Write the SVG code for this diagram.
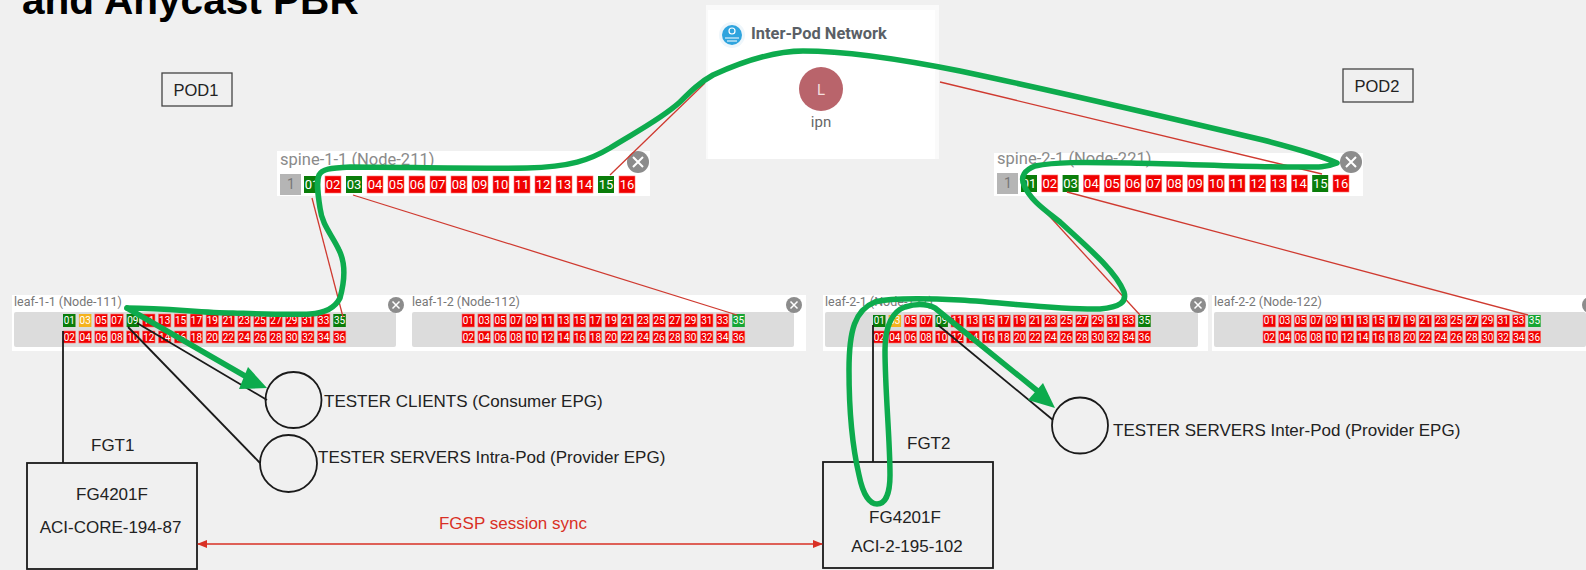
<svg xmlns="http://www.w3.org/2000/svg" width="1586" height="570" viewBox="0 0 1586 570">
<style>
text{font-family:"Liberation Sans",Arial,sans-serif}
.panel{fill:#fff}.gray{fill:#dcdcdc}
.r{fill:#f00000;stroke:#f77;stroke-width:.6}.g{fill:#0a7d0a}.lg{fill:#16a534}.y{fill:#f5b21e}
.p{font-size:10px;fill:#fff;text-anchor:middle;font-family:"Roboto",sans-serif}
.sp{font-size:13px;fill:#fff;text-anchor:middle;font-family:"Roboto",sans-serif}
.nm{font-size:16.500px;fill:#8a8a8a;font-family:"Roboto",sans-serif}
.lf{font-size:12.500px;fill:#777;font-family:"Roboto",sans-serif}
.cl{fill:#8c8c8c}.x{stroke:#fff;stroke-width:2;fill:none}
.bl{fill:none;stroke:#1a1a1a;stroke-width:1.800}
.rd{fill:none;stroke:#cf3a30;stroke-width:1.300}
.gr{fill:none;stroke:#0dab4d;stroke-width:5.500;stroke-linejoin:round;stroke-linecap:round}
.t{font-size:17px;fill:#222}
.ctr{text-anchor:middle}
.box{fill:none;stroke:#1a1a1a;stroke-width:1.800}
</style>
<defs>
<marker id="ra" markerWidth="10" markerHeight="8" refX="9" refY="4" orient="auto-start-reverse" markerUnits="userSpaceOnUse"><path d="M0 0L10 4L0 8z" fill="#d93025"/></marker>
</defs>
<rect width="1586" height="570" fill="#f0f0f0"/>
<text x="22" y="14" font-size="40.600" font-weight="bold" fill="#000">and Anycast PBR</text>

<g id="ipn-panel">
<rect x="706" y="5" width="233" height="154" fill="#fafafa"/>
<rect x="708" y="10" width="227" height="149" fill="#fff"/>
<circle cx="732" cy="35" r="13" fill="#eef6fb"/>
<circle cx="732" cy="35" r="10" fill="#2fa4de"/>
<circle cx="732" cy="31" r="3" fill="none" stroke="#fff" stroke-width="1.200"/>
<path d="M725 38h14M727 41h10" stroke="#fff" stroke-width="1.200" fill="none"/>
<text x="751" y="39" font-size="16.400" font-weight="bold" fill="#5a5f66" style="font-family:Roboto,sans-serif">Inter-Pod Network</text>
<circle cx="821" cy="89" r="22" fill="#b9646b"/>
<text x="821" y="95" font-size="15" fill="#f4dede" text-anchor="middle" style="font-family:Roboto,sans-serif">L</text>
<text x="821" y="127" font-size="15" fill="#666" text-anchor="middle" style="font-family:Roboto,sans-serif">ipn</text>
</g>

<g id="pod1"><rect x="162" y="73" width="70" height="33" fill="none" stroke="#444" stroke-width="1.300"/><text x="196" y="96" font-size="16.500" fill="#222" text-anchor="middle">POD1</text></g>
<g id="pod2"><rect x="1343" y="69" width="70" height="33" fill="none" stroke="#444" stroke-width="1.300"/><text x="1377" y="92" font-size="16.500" fill="#222" text-anchor="middle">POD2</text></g>

<g id="spine-1-1">
<rect class="panel" x="277" y="151" width="373" height="45"/>
<text class="nm" x="280" y="165">spine-1-1 (Node-211)</text>
<rect x="280" y="174" width="21" height="21" fill="#b5b5b5"/><text x="291" y="189" font-size="14" fill="#777" text-anchor="middle" style="font-family:Roboto,sans-serif">1</text>
<rect class="g" x="304" y="176" width="16" height="17"/><text class="sp" x="312" y="189">01</text>
<rect class="r" x="325" y="176" width="16" height="17"/><text class="sp" x="333" y="189">02</text>
<rect class="g" x="346" y="176" width="16" height="17"/><text class="sp" x="354" y="189">03</text>
<rect class="r" x="367" y="176" width="16" height="17"/><text class="sp" x="375" y="189">04</text>
<rect class="r" x="388" y="176" width="16" height="17"/><text class="sp" x="396" y="189">05</text>
<rect class="r" x="409" y="176" width="16" height="17"/><text class="sp" x="417" y="189">06</text>
<rect class="r" x="430" y="176" width="16" height="17"/><text class="sp" x="438" y="189">07</text>
<rect class="r" x="451" y="176" width="16" height="17"/><text class="sp" x="459" y="189">08</text>
<rect class="r" x="472" y="176" width="16" height="17"/><text class="sp" x="480" y="189">09</text>
<rect class="r" x="493" y="176" width="16" height="17"/><text class="sp" x="501" y="189">10</text>
<rect class="r" x="514" y="176" width="16" height="17"/><text class="sp" x="522" y="189">11</text>
<rect class="r" x="535" y="176" width="16" height="17"/><text class="sp" x="543" y="189">12</text>
<rect class="r" x="556" y="176" width="16" height="17"/><text class="sp" x="564" y="189">13</text>
<rect class="r" x="577" y="176" width="16" height="17"/><text class="sp" x="585" y="189">14</text>
<rect class="g" x="598" y="176" width="16" height="17"/><text class="sp" x="606" y="189">15</text>
<rect class="r" x="619" y="176" width="16" height="17"/><text class="sp" x="627" y="189">16</text>
<circle class="cl" cx="638" cy="162" r="11"/><path class="x" d="M633 157l10 10M643 157l-10 10"/>
</g>

<g id="spine-2-1">
<rect class="panel" x="994" y="153" width="369" height="43"/>
<text class="nm" x="997" y="164">spine-2-1 (Node-221)</text>
<rect x="997" y="173" width="21" height="21" fill="#b5b5b5"/><text x="1008" y="188" font-size="14" fill="#777" text-anchor="middle" style="font-family:Roboto,sans-serif">1</text>
<rect class="g" x="1021" y="175" width="16" height="17"/><text class="sp" x="1029" y="188">01</text>
<rect class="r" x="1041.800" y="175" width="16" height="17"/><text class="sp" x="1049.800" y="188">02</text>
<rect class="g" x="1062.600" y="175" width="16" height="17"/><text class="sp" x="1070.600" y="188">03</text>
<rect class="r" x="1083.400" y="175" width="16" height="17"/><text class="sp" x="1091.400" y="188">04</text>
<rect class="r" x="1104.200" y="175" width="16" height="17"/><text class="sp" x="1112.200" y="188">05</text>
<rect class="r" x="1125" y="175" width="16" height="17"/><text class="sp" x="1133" y="188">06</text>
<rect class="r" x="1145.800" y="175" width="16" height="17"/><text class="sp" x="1153.800" y="188">07</text>
<rect class="r" x="1166.600" y="175" width="16" height="17"/><text class="sp" x="1174.600" y="188">08</text>
<rect class="r" x="1187.400" y="175" width="16" height="17"/><text class="sp" x="1195.400" y="188">09</text>
<rect class="r" x="1208.200" y="175" width="16" height="17"/><text class="sp" x="1216.200" y="188">10</text>
<rect class="r" x="1229" y="175" width="16" height="17"/><text class="sp" x="1237" y="188">11</text>
<rect class="r" x="1249.800" y="175" width="16" height="17"/><text class="sp" x="1257.800" y="188">12</text>
<rect class="r" x="1270.600" y="175" width="16" height="17"/><text class="sp" x="1278.600" y="188">13</text>
<rect class="r" x="1291.400" y="175" width="16" height="17"/><text class="sp" x="1299.400" y="188">14</text>
<rect class="g" x="1312.200" y="175" width="16" height="17"/><text class="sp" x="1320.200" y="188">15</text>
<rect class="r" x="1333" y="175" width="16" height="17"/><text class="sp" x="1341" y="188">16</text>
<circle class="cl" cx="1351" cy="162" r="11"/><path class="x" d="M1346 157l10 10M1356 157l-10 10"/>
</g>

<g id="leaf-1-1">
<rect class="panel" x="12" y="295" width="396" height="56"/>
<rect class="gray" x="14" y="312" width="382" height="35" rx="2"/>
<text class="lf" x="14" y="306">leaf-1-1 (Node-111)</text>
<rect class="g" x="63.000" y="314" width="12.500" height="13"/><text class="p" x="69.250" y="324">01</text>
<rect class="r" x="63.000" y="331" width="12.500" height="12"/><text class="p" x="69.250" y="341">02</text>
<rect class="y" x="78.900" y="314" width="12.500" height="13"/><text class="p" x="85.150" y="324">03</text>
<rect class="r" x="78.900" y="331" width="12.500" height="12"/><text class="p" x="85.150" y="341">04</text>
<rect class="r" x="94.800" y="314" width="12.500" height="13"/><text class="p" x="101.050" y="324">05</text>
<rect class="r" x="94.800" y="331" width="12.500" height="12"/><text class="p" x="101.050" y="341">06</text>
<rect class="r" x="110.700" y="314" width="12.500" height="13"/><text class="p" x="116.950" y="324">07</text>
<rect class="r" x="110.700" y="331" width="12.500" height="12"/><text class="p" x="116.950" y="341">08</text>
<rect class="g" x="126.600" y="314" width="12.500" height="13"/><text class="p" x="132.850" y="324">09</text>
<rect class="r" x="126.600" y="331" width="12.500" height="12"/><text class="p" x="132.850" y="341">10</text>
<rect class="r" x="142.500" y="314" width="12.500" height="13"/><text class="p" x="148.750" y="324">11</text>
<rect class="r" x="142.500" y="331" width="12.500" height="12"/><text class="p" x="148.750" y="341">12</text>
<rect class="r" x="158.400" y="314" width="12.500" height="13"/><text class="p" x="164.650" y="324">13</text>
<rect class="r" x="158.400" y="331" width="12.500" height="12"/><text class="p" x="164.650" y="341">14</text>
<rect class="r" x="174.300" y="314" width="12.500" height="13"/><text class="p" x="180.550" y="324">15</text>
<rect class="r" x="174.300" y="331" width="12.500" height="12"/><text class="p" x="180.550" y="341">16</text>
<rect class="r" x="190.200" y="314" width="12.500" height="13"/><text class="p" x="196.450" y="324">17</text>
<rect class="r" x="190.200" y="331" width="12.500" height="12"/><text class="p" x="196.450" y="341">18</text>
<rect class="r" x="206.100" y="314" width="12.500" height="13"/><text class="p" x="212.350" y="324">19</text>
<rect class="r" x="206.100" y="331" width="12.500" height="12"/><text class="p" x="212.350" y="341">20</text>
<rect class="r" x="222.000" y="314" width="12.500" height="13"/><text class="p" x="228.250" y="324">21</text>
<rect class="r" x="222.000" y="331" width="12.500" height="12"/><text class="p" x="228.250" y="341">22</text>
<rect class="r" x="237.900" y="314" width="12.500" height="13"/><text class="p" x="244.150" y="324">23</text>
<rect class="r" x="237.900" y="331" width="12.500" height="12"/><text class="p" x="244.150" y="341">24</text>
<rect class="r" x="253.800" y="314" width="12.500" height="13"/><text class="p" x="260.050" y="324">25</text>
<rect class="r" x="253.800" y="331" width="12.500" height="12"/><text class="p" x="260.050" y="341">26</text>
<rect class="r" x="269.700" y="314" width="12.500" height="13"/><text class="p" x="275.950" y="324">27</text>
<rect class="r" x="269.700" y="331" width="12.500" height="12"/><text class="p" x="275.950" y="341">28</text>
<rect class="r" x="285.600" y="314" width="12.500" height="13"/><text class="p" x="291.850" y="324">29</text>
<rect class="r" x="285.600" y="331" width="12.500" height="12"/><text class="p" x="291.850" y="341">30</text>
<rect class="r" x="301.500" y="314" width="12.500" height="13"/><text class="p" x="307.750" y="324">31</text>
<rect class="r" x="301.500" y="331" width="12.500" height="12"/><text class="p" x="307.750" y="341">32</text>
<rect class="r" x="317.400" y="314" width="12.500" height="13"/><text class="p" x="323.650" y="324">33</text>
<rect class="r" x="317.400" y="331" width="12.500" height="12"/><text class="p" x="323.650" y="341">34</text>
<rect class="g" x="333.300" y="314" width="12.500" height="13"/><text class="p" x="339.550" y="324">35</text>
<rect class="r" x="333.300" y="331" width="12.500" height="12"/><text class="p" x="339.550" y="341">36</text>
<circle class="cl" cx="396" cy="305" r="8"/><path class="x" d="M392.500 301.500l7 7M399.500 301.500l-7 7" style="stroke-width:1.500"/>
</g>

<g id="leaf-1-2">
<rect class="panel" x="408" y="295" width="398" height="56"/>
<rect class="gray" x="412" y="312" width="382" height="35" rx="2"/>
<text class="lf" x="412" y="306">leaf-1-2 (Node-112)</text>
<rect class="r" x="462.000" y="314" width="12.500" height="13"/><text class="p" x="468.250" y="324">01</text>
<rect class="r" x="462.000" y="331" width="12.500" height="12"/><text class="p" x="468.250" y="341">02</text>
<rect class="r" x="477.900" y="314" width="12.500" height="13"/><text class="p" x="484.150" y="324">03</text>
<rect class="r" x="477.900" y="331" width="12.500" height="12"/><text class="p" x="484.150" y="341">04</text>
<rect class="r" x="493.800" y="314" width="12.500" height="13"/><text class="p" x="500.050" y="324">05</text>
<rect class="r" x="493.800" y="331" width="12.500" height="12"/><text class="p" x="500.050" y="341">06</text>
<rect class="r" x="509.700" y="314" width="12.500" height="13"/><text class="p" x="515.950" y="324">07</text>
<rect class="r" x="509.700" y="331" width="12.500" height="12"/><text class="p" x="515.950" y="341">08</text>
<rect class="r" x="525.600" y="314" width="12.500" height="13"/><text class="p" x="531.850" y="324">09</text>
<rect class="r" x="525.600" y="331" width="12.500" height="12"/><text class="p" x="531.850" y="341">10</text>
<rect class="r" x="541.500" y="314" width="12.500" height="13"/><text class="p" x="547.750" y="324">11</text>
<rect class="r" x="541.500" y="331" width="12.500" height="12"/><text class="p" x="547.750" y="341">12</text>
<rect class="r" x="557.400" y="314" width="12.500" height="13"/><text class="p" x="563.650" y="324">13</text>
<rect class="r" x="557.400" y="331" width="12.500" height="12"/><text class="p" x="563.650" y="341">14</text>
<rect class="r" x="573.300" y="314" width="12.500" height="13"/><text class="p" x="579.550" y="324">15</text>
<rect class="r" x="573.300" y="331" width="12.500" height="12"/><text class="p" x="579.550" y="341">16</text>
<rect class="r" x="589.200" y="314" width="12.500" height="13"/><text class="p" x="595.450" y="324">17</text>
<rect class="r" x="589.200" y="331" width="12.500" height="12"/><text class="p" x="595.450" y="341">18</text>
<rect class="r" x="605.100" y="314" width="12.500" height="13"/><text class="p" x="611.350" y="324">19</text>
<rect class="r" x="605.100" y="331" width="12.500" height="12"/><text class="p" x="611.350" y="341">20</text>
<rect class="r" x="621.000" y="314" width="12.500" height="13"/><text class="p" x="627.250" y="324">21</text>
<rect class="r" x="621.000" y="331" width="12.500" height="12"/><text class="p" x="627.250" y="341">22</text>
<rect class="r" x="636.900" y="314" width="12.500" height="13"/><text class="p" x="643.150" y="324">23</text>
<rect class="r" x="636.900" y="331" width="12.500" height="12"/><text class="p" x="643.150" y="341">24</text>
<rect class="r" x="652.800" y="314" width="12.500" height="13"/><text class="p" x="659.050" y="324">25</text>
<rect class="r" x="652.800" y="331" width="12.500" height="12"/><text class="p" x="659.050" y="341">26</text>
<rect class="r" x="668.700" y="314" width="12.500" height="13"/><text class="p" x="674.950" y="324">27</text>
<rect class="r" x="668.700" y="331" width="12.500" height="12"/><text class="p" x="674.950" y="341">28</text>
<rect class="r" x="684.600" y="314" width="12.500" height="13"/><text class="p" x="690.850" y="324">29</text>
<rect class="r" x="684.600" y="331" width="12.500" height="12"/><text class="p" x="690.850" y="341">30</text>
<rect class="r" x="700.500" y="314" width="12.500" height="13"/><text class="p" x="706.750" y="324">31</text>
<rect class="r" x="700.500" y="331" width="12.500" height="12"/><text class="p" x="706.750" y="341">32</text>
<rect class="r" x="716.400" y="314" width="12.500" height="13"/><text class="p" x="722.650" y="324">33</text>
<rect class="r" x="716.400" y="331" width="12.500" height="12"/><text class="p" x="722.650" y="341">34</text>
<rect class="lg" x="732.300" y="314" width="12.500" height="13"/><text class="p" x="738.550" y="324">35</text>
<rect class="r" x="732.300" y="331" width="12.500" height="12"/><text class="p" x="738.550" y="341">36</text>
<circle class="cl" cx="794" cy="305" r="8"/><path class="x" d="M790.500 301.500l7 7M797.500 301.500l-7 7" style="stroke-width:1.500"/>
</g>

<g id="leaf-2-1">
<rect class="panel" x="823" y="295" width="385" height="56"/>
<rect class="gray" x="825" y="312" width="373" height="35" rx="2"/>
<text class="lf" x="825" y="306">leaf-2-1 (Node-121)</text>
<rect class="g" x="873.000" y="315" width="12.500" height="12"/><text class="p" x="879.250" y="324">01</text>
<rect class="r" x="873.000" y="331" width="12.500" height="12"/><text class="p" x="879.250" y="341">02</text>
<rect class="y" x="888.600" y="315" width="12.500" height="12"/><text class="p" x="894.850" y="324">03</text>
<rect class="r" x="888.600" y="331" width="12.500" height="12"/><text class="p" x="894.850" y="341">04</text>
<rect class="r" x="904.200" y="315" width="12.500" height="12"/><text class="p" x="910.450" y="324">05</text>
<rect class="r" x="904.200" y="331" width="12.500" height="12"/><text class="p" x="910.450" y="341">06</text>
<rect class="r" x="919.800" y="315" width="12.500" height="12"/><text class="p" x="926.050" y="324">07</text>
<rect class="r" x="919.800" y="331" width="12.500" height="12"/><text class="p" x="926.050" y="341">08</text>
<rect class="g" x="935.400" y="315" width="12.500" height="12"/><text class="p" x="941.650" y="324">09</text>
<rect class="r" x="935.400" y="331" width="12.500" height="12"/><text class="p" x="941.650" y="341">10</text>
<rect class="r" x="951.000" y="315" width="12.500" height="12"/><text class="p" x="957.250" y="324">11</text>
<rect class="r" x="951.000" y="331" width="12.500" height="12"/><text class="p" x="957.250" y="341">12</text>
<rect class="r" x="966.600" y="315" width="12.500" height="12"/><text class="p" x="972.850" y="324">13</text>
<rect class="r" x="966.600" y="331" width="12.500" height="12"/><text class="p" x="972.850" y="341">14</text>
<rect class="r" x="982.200" y="315" width="12.500" height="12"/><text class="p" x="988.450" y="324">15</text>
<rect class="r" x="982.200" y="331" width="12.500" height="12"/><text class="p" x="988.450" y="341">16</text>
<rect class="r" x="997.800" y="315" width="12.500" height="12"/><text class="p" x="1004.050" y="324">17</text>
<rect class="r" x="997.800" y="331" width="12.500" height="12"/><text class="p" x="1004.050" y="341">18</text>
<rect class="r" x="1013.400" y="315" width="12.500" height="12"/><text class="p" x="1019.650" y="324">19</text>
<rect class="r" x="1013.400" y="331" width="12.500" height="12"/><text class="p" x="1019.650" y="341">20</text>
<rect class="r" x="1029.000" y="315" width="12.500" height="12"/><text class="p" x="1035.250" y="324">21</text>
<rect class="r" x="1029.000" y="331" width="12.500" height="12"/><text class="p" x="1035.250" y="341">22</text>
<rect class="r" x="1044.600" y="315" width="12.500" height="12"/><text class="p" x="1050.850" y="324">23</text>
<rect class="r" x="1044.600" y="331" width="12.500" height="12"/><text class="p" x="1050.850" y="341">24</text>
<rect class="r" x="1060.200" y="315" width="12.500" height="12"/><text class="p" x="1066.450" y="324">25</text>
<rect class="r" x="1060.200" y="331" width="12.500" height="12"/><text class="p" x="1066.450" y="341">26</text>
<rect class="r" x="1075.800" y="315" width="12.500" height="12"/><text class="p" x="1082.050" y="324">27</text>
<rect class="r" x="1075.800" y="331" width="12.500" height="12"/><text class="p" x="1082.050" y="341">28</text>
<rect class="r" x="1091.400" y="315" width="12.500" height="12"/><text class="p" x="1097.650" y="324">29</text>
<rect class="r" x="1091.400" y="331" width="12.500" height="12"/><text class="p" x="1097.650" y="341">30</text>
<rect class="r" x="1107.000" y="315" width="12.500" height="12"/><text class="p" x="1113.250" y="324">31</text>
<rect class="r" x="1107.000" y="331" width="12.500" height="12"/><text class="p" x="1113.250" y="341">32</text>
<rect class="r" x="1122.600" y="315" width="12.500" height="12"/><text class="p" x="1128.850" y="324">33</text>
<rect class="r" x="1122.600" y="331" width="12.500" height="12"/><text class="p" x="1128.850" y="341">34</text>
<rect class="g" x="1138.200" y="315" width="12.500" height="12"/><text class="p" x="1144.450" y="324">35</text>
<rect class="r" x="1138.200" y="331" width="12.500" height="12"/><text class="p" x="1144.450" y="341">36</text>
<circle class="cl" cx="1198" cy="305" r="8"/><path class="x" d="M1194.500 301.500l7 7M1201.500 301.500l-7 7" style="stroke-width:1.500"/>
</g>

<g id="leaf-2-2">
<rect class="panel" x="1212" y="295" width="374" height="56"/>
<rect class="gray" x="1214" y="312" width="372" height="35" rx="2"/>
<text class="lf" x="1214" y="306">leaf-2-2 (Node-122)</text>
<rect class="r" x="1263.000" y="315" width="12.500" height="12"/><text class="p" x="1269.250" y="324">01</text>
<rect class="r" x="1263.000" y="331" width="12.500" height="12"/><text class="p" x="1269.250" y="341">02</text>
<rect class="r" x="1278.600" y="315" width="12.500" height="12"/><text class="p" x="1284.850" y="324">03</text>
<rect class="r" x="1278.600" y="331" width="12.500" height="12"/><text class="p" x="1284.850" y="341">04</text>
<rect class="r" x="1294.200" y="315" width="12.500" height="12"/><text class="p" x="1300.450" y="324">05</text>
<rect class="r" x="1294.200" y="331" width="12.500" height="12"/><text class="p" x="1300.450" y="341">06</text>
<rect class="r" x="1309.800" y="315" width="12.500" height="12"/><text class="p" x="1316.050" y="324">07</text>
<rect class="r" x="1309.800" y="331" width="12.500" height="12"/><text class="p" x="1316.050" y="341">08</text>
<rect class="r" x="1325.400" y="315" width="12.500" height="12"/><text class="p" x="1331.650" y="324">09</text>
<rect class="r" x="1325.400" y="331" width="12.500" height="12"/><text class="p" x="1331.650" y="341">10</text>
<rect class="r" x="1341.000" y="315" width="12.500" height="12"/><text class="p" x="1347.250" y="324">11</text>
<rect class="r" x="1341.000" y="331" width="12.500" height="12"/><text class="p" x="1347.250" y="341">12</text>
<rect class="r" x="1356.600" y="315" width="12.500" height="12"/><text class="p" x="1362.850" y="324">13</text>
<rect class="r" x="1356.600" y="331" width="12.500" height="12"/><text class="p" x="1362.850" y="341">14</text>
<rect class="r" x="1372.200" y="315" width="12.500" height="12"/><text class="p" x="1378.450" y="324">15</text>
<rect class="r" x="1372.200" y="331" width="12.500" height="12"/><text class="p" x="1378.450" y="341">16</text>
<rect class="r" x="1387.800" y="315" width="12.500" height="12"/><text class="p" x="1394.050" y="324">17</text>
<rect class="r" x="1387.800" y="331" width="12.500" height="12"/><text class="p" x="1394.050" y="341">18</text>
<rect class="r" x="1403.400" y="315" width="12.500" height="12"/><text class="p" x="1409.650" y="324">19</text>
<rect class="r" x="1403.400" y="331" width="12.500" height="12"/><text class="p" x="1409.650" y="341">20</text>
<rect class="r" x="1419.000" y="315" width="12.500" height="12"/><text class="p" x="1425.250" y="324">21</text>
<rect class="r" x="1419.000" y="331" width="12.500" height="12"/><text class="p" x="1425.250" y="341">22</text>
<rect class="r" x="1434.600" y="315" width="12.500" height="12"/><text class="p" x="1440.850" y="324">23</text>
<rect class="r" x="1434.600" y="331" width="12.500" height="12"/><text class="p" x="1440.850" y="341">24</text>
<rect class="r" x="1450.200" y="315" width="12.500" height="12"/><text class="p" x="1456.450" y="324">25</text>
<rect class="r" x="1450.200" y="331" width="12.500" height="12"/><text class="p" x="1456.450" y="341">26</text>
<rect class="r" x="1465.800" y="315" width="12.500" height="12"/><text class="p" x="1472.050" y="324">27</text>
<rect class="r" x="1465.800" y="331" width="12.500" height="12"/><text class="p" x="1472.050" y="341">28</text>
<rect class="r" x="1481.400" y="315" width="12.500" height="12"/><text class="p" x="1487.650" y="324">29</text>
<rect class="r" x="1481.400" y="331" width="12.500" height="12"/><text class="p" x="1487.650" y="341">30</text>
<rect class="r" x="1497.000" y="315" width="12.500" height="12"/><text class="p" x="1503.250" y="324">31</text>
<rect class="r" x="1497.000" y="331" width="12.500" height="12"/><text class="p" x="1503.250" y="341">32</text>
<rect class="r" x="1512.600" y="315" width="12.500" height="12"/><text class="p" x="1518.850" y="324">33</text>
<rect class="r" x="1512.600" y="331" width="12.500" height="12"/><text class="p" x="1518.850" y="341">34</text>
<rect class="lg" x="1528.200" y="315" width="12.500" height="12"/><text class="p" x="1534.450" y="324">35</text>
<rect class="r" x="1528.200" y="331" width="12.500" height="12"/><text class="p" x="1534.450" y="341">36</text>
<circle class="cl" cx="1590" cy="305" r="8"/>
</g>

<g id="tester-clients"><circle cx="293.500" cy="400" r="28" fill="none" stroke="#1a1a1a" stroke-width="1.800"/><text class="t" x="324" y="407">TESTER CLIENTS (Consumer EPG)</text></g>
<g id="tester-intra"><circle cx="288.500" cy="463.500" r="28.500" fill="none" stroke="#1a1a1a" stroke-width="1.800"/><text class="t" x="318" y="463">TESTER SERVERS Intra-Pod (Provider EPG)</text></g>
<g id="tester-inter"><circle cx="1080" cy="425.500" r="28" fill="none" stroke="#1a1a1a" stroke-width="1.800"/><text class="t" x="1113" y="436">TESTER SERVERS Inter-Pod (Provider EPG)</text></g>

<g id="fgt1"><rect class="box" x="27" y="463" width="170" height="106"/><text class="t" x="91" y="451">FGT1</text><text class="t ctr" x="112" y="500">FG4201F</text><text class="t ctr" x="110.500" y="533">ACI-CORE-194-87</text></g>
<g id="fgt2"><rect class="box" x="823" y="462" width="170" height="106"/><text class="t" x="907" y="449">FGT2</text><text class="t ctr" x="905" y="523">FG4201F</text><text class="t ctr" x="907" y="552">ACI-2-195-102</text></g>

<g id="connectors">
<path class="rd" d="M312 198L343 317"/>
<path class="rd" d="M353 195L737 315"/>
<path class="rd" d="M610 175L705 83"/>
<path class="rd" d="M940 82L1322 174"/>
<path class="rd" d="M1030 195L1140 315"/>
<path class="rd" d="M1067 192L1528 315"/>
<path class="bl" d="M63 331V463"/>
<path class="bl" d="M137 323L267 400"/>
<path class="bl" d="M128 327L260 463"/>
<path class="bl" d="M873 325V462"/>
<path class="bl" d="M938 325L1053 420"/>
<path fill="none" stroke="#d93025" stroke-width="1.600" marker-start="url(#ra)" marker-end="url(#ra)" d="M198 544H822"/>
<text x="513" y="529" font-size="17" fill="#d93025" text-anchor="middle">FGSP session sync</text>
<path class="gr" d="M127 308C170 308 200 313 233 313C265 314 290 315 310 314C325 313 335 308 340 298C345 280 345 262 339 250C332 235 322 225 320 208C318 195 316 182 319 175C322 169 330 168 350 167C400 167 470 169 527 168C570 167 590 160 610 148C632 134 660 120 680 102C690 92 700 82 713 75C735 65 770 51 803 51C850 51 905 60 960 71C1050 90 1170 118 1263 140C1290 147 1320 155 1337 163C1325 168 1315 167 1290 167C1240 167 1190 164 1130 163C1080 162 1055 162 1035 166C1025 170 1020 176 1024 185C1030 200 1045 210 1060 222C1085 245 1115 270 1124 292C1127 302 1120 307 1100 309C1060 310 1010 303 960 300C920 298 890 298 875 302C855 310 849 330 849 370C849 410 852 445 859 475C863 495 870 504 877 504C886 504 890 492 890 475C890 440 885 390 885 350C885 325 893 311 905 307C915 304 925 303 935 308L1040 393"/>
<path d="M1055 408L1028 400L1043 383z" fill="#0dab4d"/>
<path class="gr" d="M127 308L245 376"/>
<path d="M267 388L239 389L248 367z" fill="#0dab4d"/>
</g>
</svg>
